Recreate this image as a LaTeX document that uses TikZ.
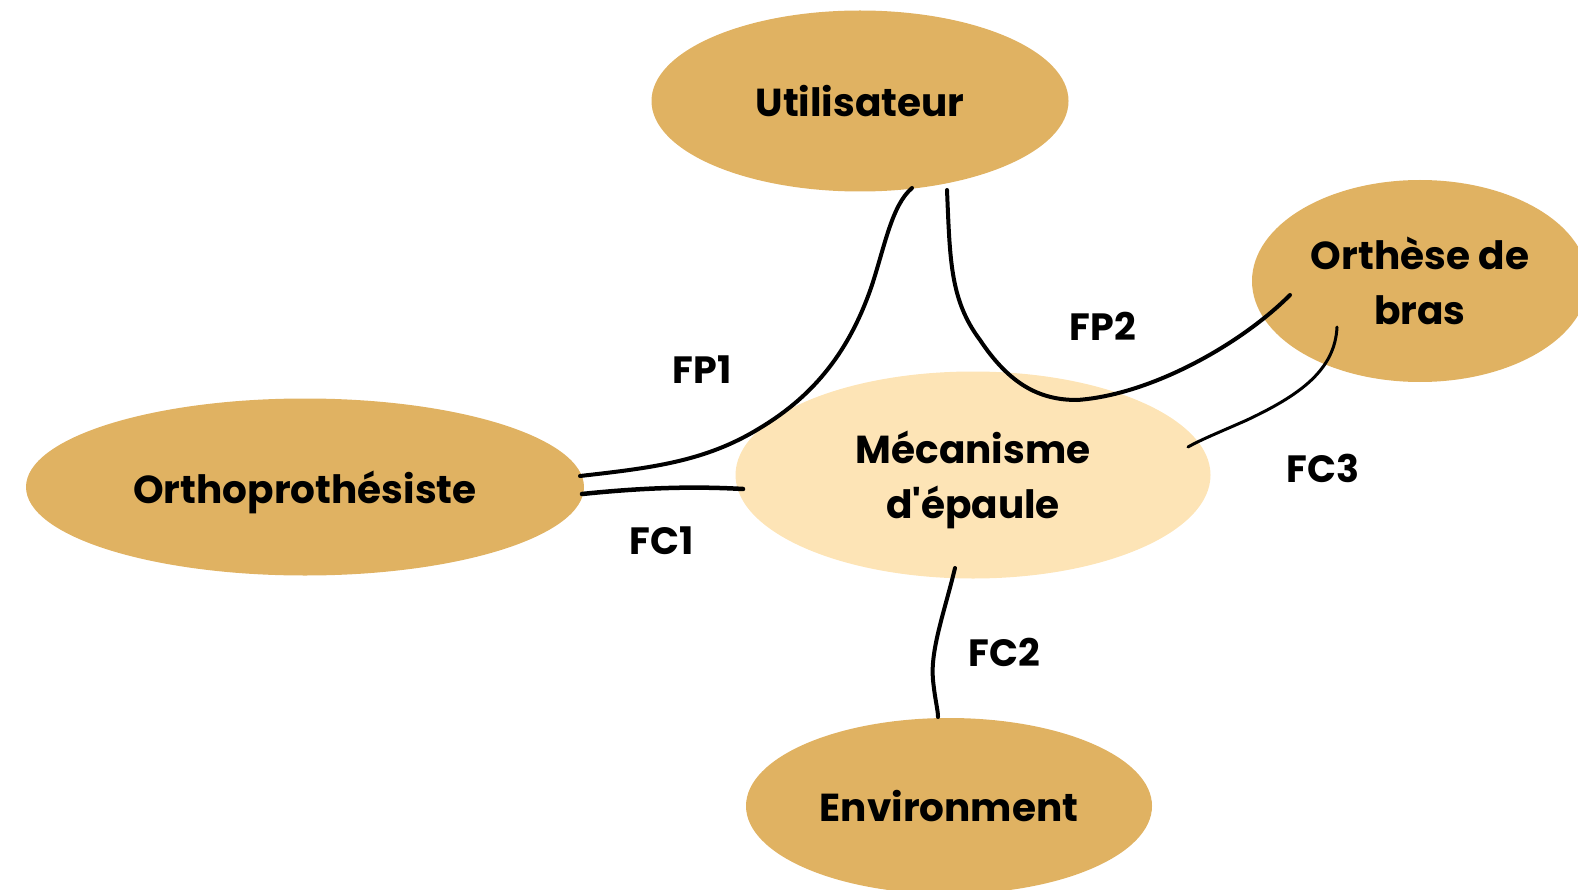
\documentclass[tikz,border=0pt]{standalone}
\usepackage{fontspec}
\setmainfont{Poppins}[Ligatures=TeXOff]
\usetikzlibrary{shapes.geometric,calc}
\definecolor{gold}{RGB}{224,178,98}
\definecolor{cream}{RGB}{253,228,182}
\newcommand{\lowered}[1]{\raisebox{-5pt}[\height][\depth]{#1}}
\tikzset{
  blob/.style={ellipse, fill=gold, inner sep=0pt, align=center,
    font=\fontsize{39}{55}\selectfont\bfseries},
  lightblob/.style={blob, fill=cream},
  lbl/.style={font=\fontsize{38}{44}\selectfont\bfseries},
  link/.style={line width=4pt, line cap=round, black}
}
\begin{document}
\begin{tikzpicture}[x=1pt,y=-1pt]
\useasboundingbox (0,0) rectangle (1578,890);
\clip (0,0) rectangle (1578,890);
\node[blob, minimum width=417pt, minimum height=181pt] (u) at (860,101) {Utilisateur};
\node[blob, minimum width=558pt, minimum height=177pt] (o) at (305,487) {\lowered{Orthoproth\'esiste}};
\node[blob, minimum width=336pt, minimum height=202pt] (b) at (1420,281) {Orth\`ese de\\bras};
\node[lightblob, minimum width=475pt, minimum height=207pt] (m) at (973,475) {\lowered{M\'ecanisme}\\\lowered{d'\'epaule}};
\node[blob, minimum width=406pt, minimum height=176pt] (e) at (949,806) {Environment};

\coordinate (u1) at ($(u.center)+(52,87)$);
\coordinate (u2) at ($(u.center)+(87,89)$);
\coordinate (o1) at ($(o.center)+(275,-11)$);
\coordinate (o2) at ($(o.center)+(277,7)$);
\coordinate (b1) at ($(b.center)+(-130,14)$);
\coordinate (b2) at ($(b.center)+(-83,46)$);
\coordinate (m1) at ($(m.center)+(-230,14)$);
\coordinate (m2) at ($(m.center)+(215,-28)$);
\coordinate (m3) at ($(m.center)+(-18,93)$);
\coordinate (e1) at ($(e.center)+(-11,-89)$);

\draw[link] (u1) .. controls (892,205) and (885,245) .. (872,285)
  .. controls (850,350) and (815,395) .. (760,428)
  .. controls (705,462) and (650,468) .. (o1);
\draw[link, line width=4.5pt] (o2) .. controls (640,488) and (690,486) .. (m1);
\draw[link] (u2) .. controls (950,260) and (950,300) .. (980,340)
  .. controls (1010,385) and (1040,400) .. (1077,400)
  .. controls (1150,395) and (1240,345) .. (b1);
\draw[link, line width=3pt] (b2) .. controls (1335,370) and (1300,395) .. (1247,420)
  .. controls (1220,432) and (1200,440) .. (m2);
\draw[link] (m3) .. controls (945,610) and (930,650) .. (933,680)
  .. controls (935,700) and (938,710) .. (e1);

\node[lbl] (fp1) at (702,370) {FP1};
\node[lbl] (fp2) at (1103,326) {FP2};
\node[lbl] (fc1) at (662,541) {FC1};
\node[lbl] (fc2) at (1004,652) {FC2};
\node[lbl] (fc3) at (1323,468) {FC3};
\end{tikzpicture}
\end{document}
